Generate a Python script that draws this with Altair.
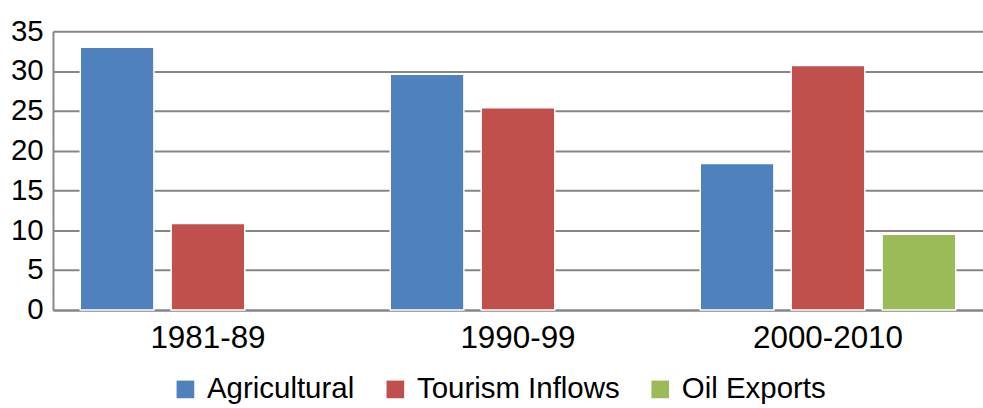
import altair as alt
import pandas as pd

periods = ["1981-89", "1990-99", "2000-2010"]
series = ["Agricultural", "Tourism Inflows", "Oil Exports"]
agricultural = [33.0, 29.6, 18.4]
tourism = [10.85, 25.4, 30.7]
oil = [0.0, 0.0, 9.5]
colors = ["#4F81BD", "#C0504D", "#9BBB59"]

rows = []
for name, vals in zip(series, [agricultural, tourism, oil]):
    for p, v in zip(periods, vals):
        rows.append({"period": p, "series": name, "value": v})
df = pd.DataFrame(rows)

FONT = "Liberation Sans"

bars = (
    alt.Chart(df)
    .transform_filter(alt.datum.value > 0)
    .mark_bar(stroke="white", strokeWidth=1.5)
    .encode(
        x=alt.X(
            "period:N",
            sort=periods,
            title=None,
            scale=alt.Scale(paddingInner=0.176, paddingOuter=0.088),
            axis=alt.Axis(
                labelAngle=0,
                labelFontSize=32,
                labelFont=FONT,
                labelColor="black",
                labelPadding=13,
                ticks=False,
                domainColor="#868686",
                domainWidth=2,
                grid=False,
            ),
        ),
        xOffset=alt.XOffset(
            "series:N", sort=series,
            scale=alt.Scale(domain=series, paddingInner=0.19, paddingOuter=0),
        ),
        y=alt.Y(
            "value:Q",
            title=None,
            scale=alt.Scale(domain=[0, 35], nice=False),
            axis=alt.Axis(
                values=[0, 5, 10, 15, 20, 25, 30, 35],
                labelFontSize=30,
                labelFont=FONT,
                labelColor="black",
                labelPadding=10,
                ticks=False,
                domainColor="#868686",
                domainWidth=2,
                gridColor="#868686",
                gridWidth=2,
            ),
        ),
        color=alt.Color(
            "series:N",
            sort=series,
            scale=alt.Scale(domain=series, range=colors),
            legend=alt.Legend(
                title=None,
                orient="none",
                direction="horizontal",
                legendX=120,
                legendY=350,
                symbolType="square",
                symbolSize=324,
                symbolStrokeWidth=0,
                labelFontSize=30,
                labelFont=FONT,
                labelColor="black",
                labelOffset=7,
                labelLimit=400,
                columnPadding=26,
                padding=0,
            ),
        ),
    )
)

chart = (
    bars.properties(width=948, height=284, padding={"left": 54, "top": 28, "right": 0, "bottom": 96})
    .configure(autosize=alt.AutoSizeParams(type="none"))
    .configure_view(stroke=None)
    .configure_axis(gridOpacity=1)
)

chart.save("out.html", embed_options={"renderer": "svg", "actions": False})
